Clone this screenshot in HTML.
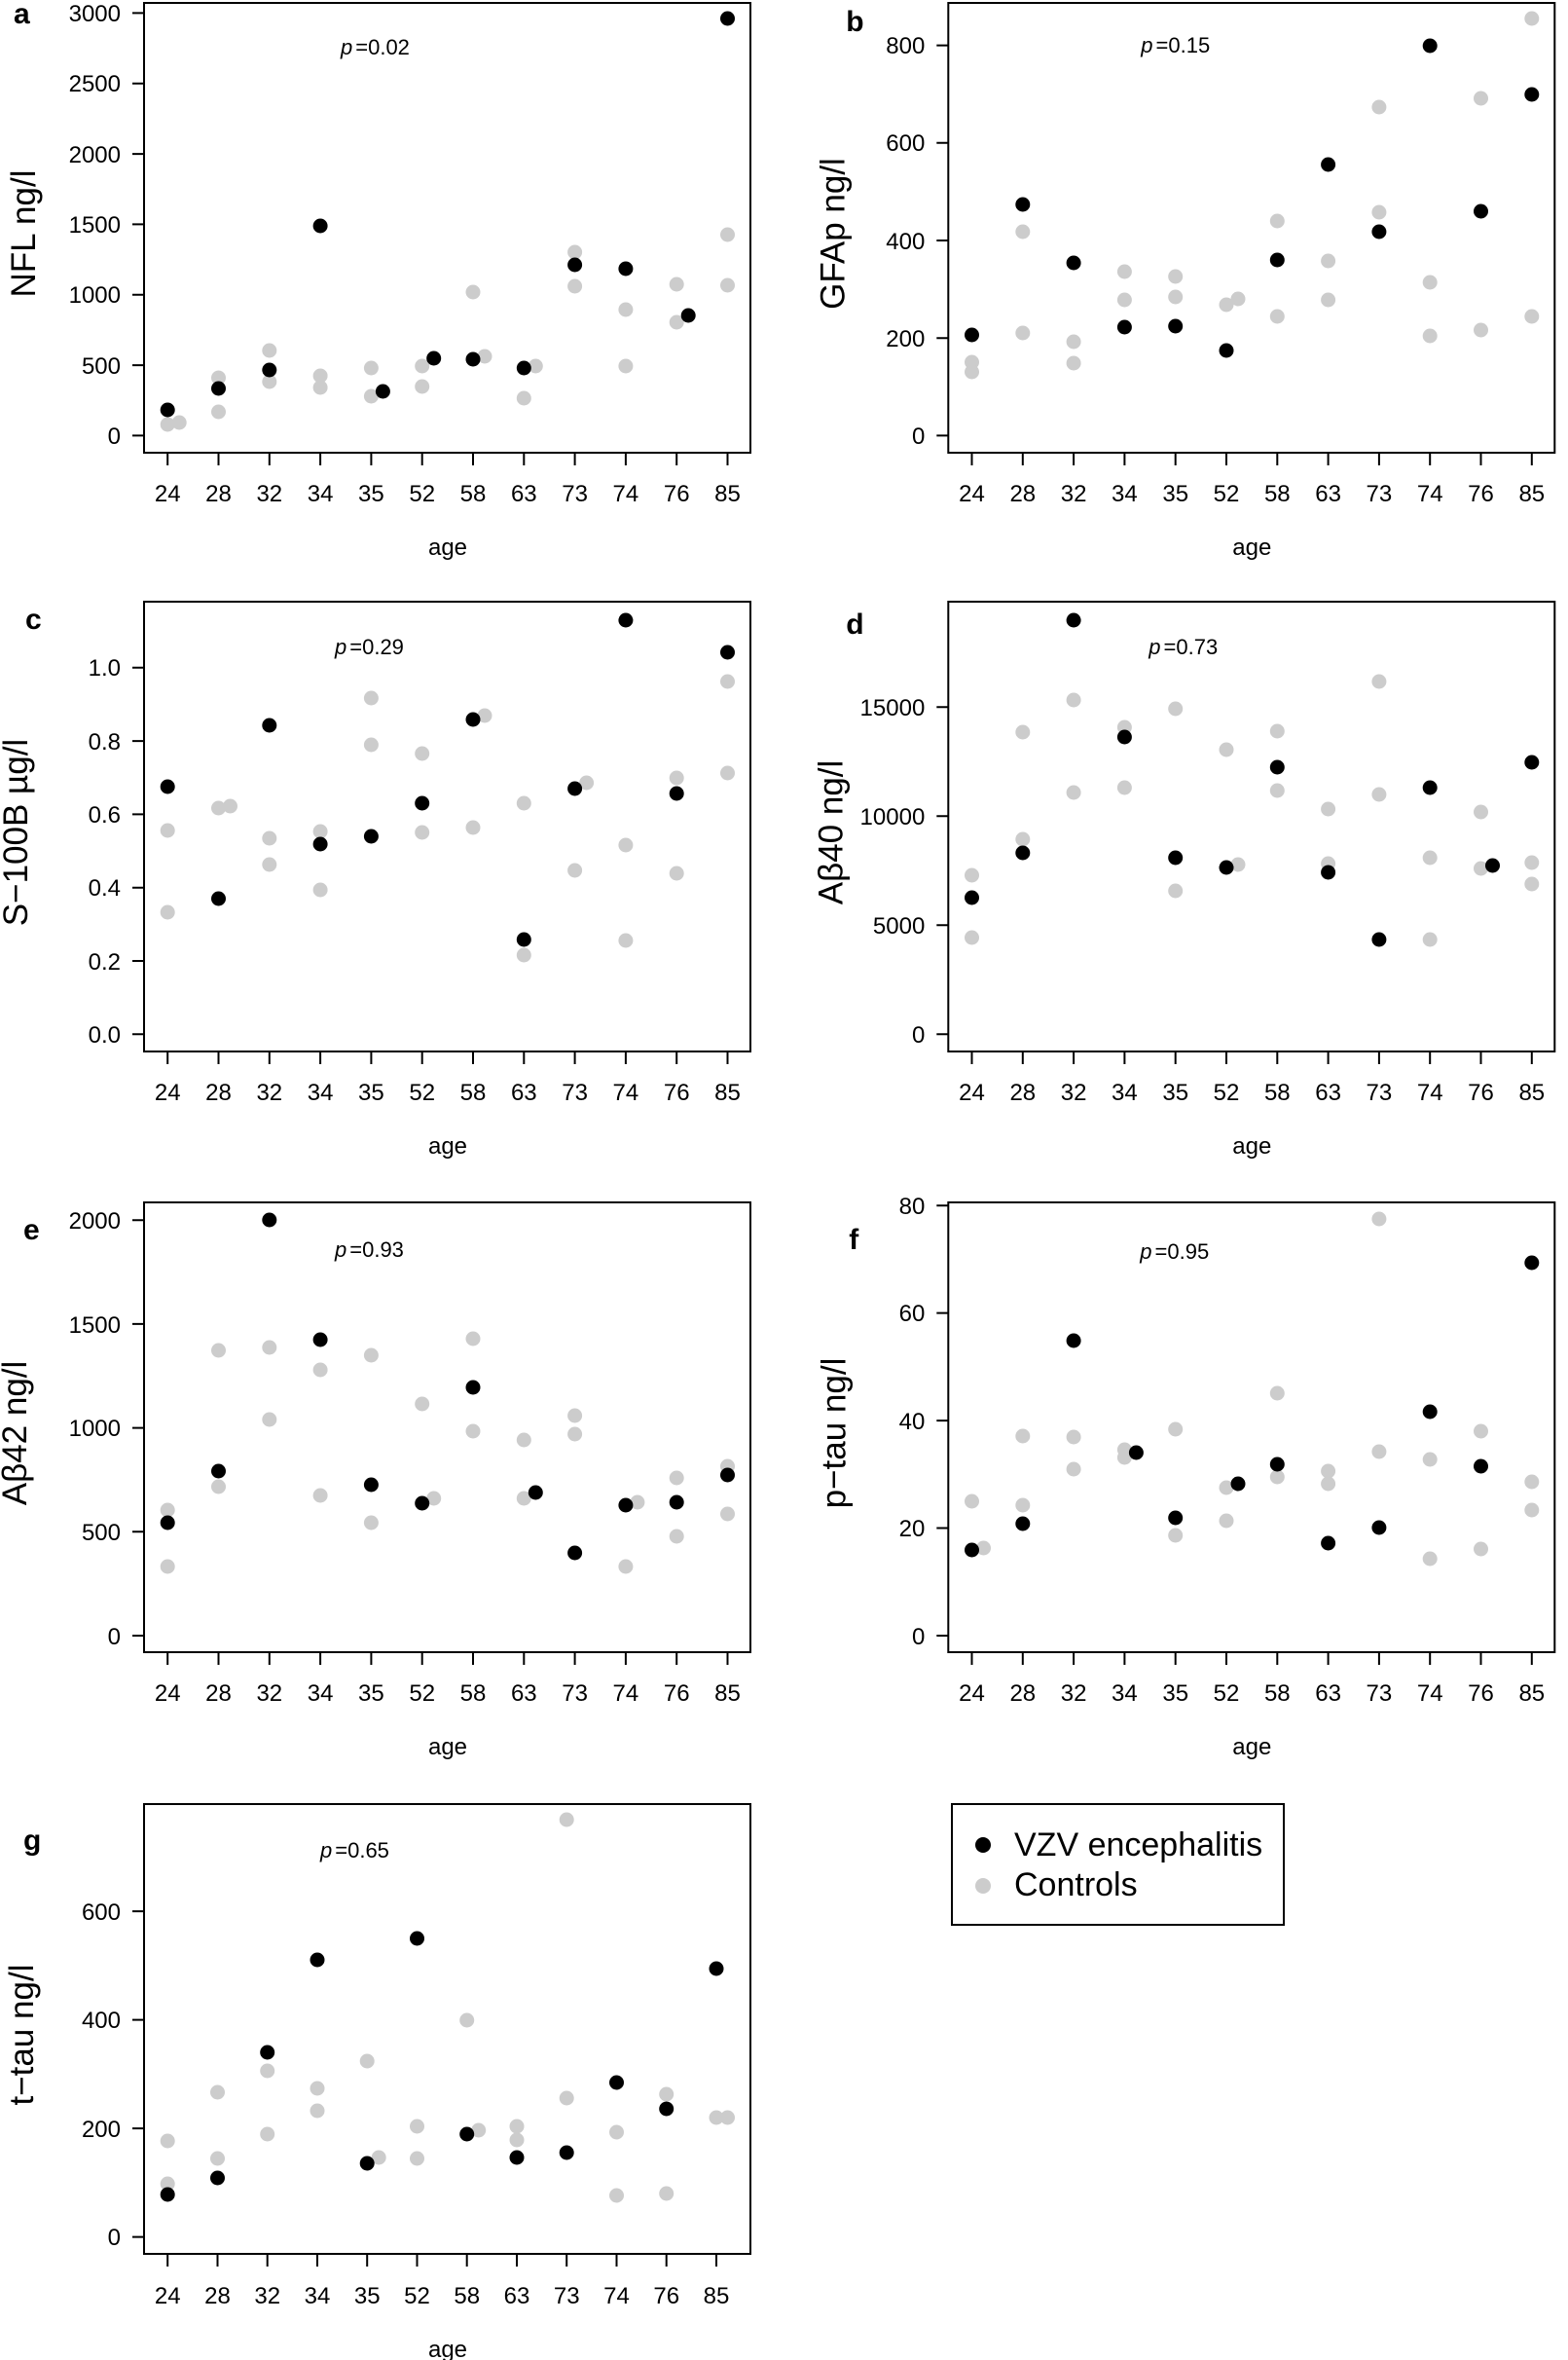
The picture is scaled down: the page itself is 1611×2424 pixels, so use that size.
<!DOCTYPE html>
<html><head><meta charset="utf-8"><style>
html,body{margin:0;padding:0;background:#fff;}
svg{display:block;}
text{font-family:"Liberation Sans",Arial,sans-serif;fill:#000;}
.t{font-size:24px;}
.yl{font-size:35px;}
.pl{font-size:30px;font-weight:bold;}
.pv{font-size:22px;}
.g{fill:#cccccc;}
.k{fill:#000;}
.ax{stroke:#000;stroke-width:2;fill:none;}
</style></head><body>
<svg width="1611" height="2424" viewBox="0 0 1611 2424" xmlns="http://www.w3.org/2000/svg">
<defs>
<g id="xax">
<rect class="ax" x="148" y="3" width="623" height="462"/>
<path class="ax" d="M172.2 465v13M224.5 465v13M276.8 465v13M329.1 465v13M381.4 465v13M433.7 465v13M486 465v13M538.3 465v13M590.6 465v13M642.9 465v13M695.2 465v13M747.5 465v13"/>
<g class="t" text-anchor="middle">
<text x="172.2" y="515">24</text><text x="224.5" y="515">28</text><text x="276.8" y="515">32</text><text x="329.1" y="515">34</text><text x="381.4" y="515">35</text><text x="433.7" y="515">52</text><text x="486" y="515">58</text><text x="538.3" y="515">63</text><text x="590.6" y="515">73</text><text x="642.9" y="515">74</text><text x="695.2" y="515">76</text><text x="747.5" y="515">85</text>
<text x="460" y="570">age</text>
</g>
</g>
</defs>

<!-- Panel a -->
<g transform="translate(0,0)">
<use href="#xax"/>
<path class="ax" d="M148 447.4h-12M148 375.1h-12M148 302.7h-12M148 230.4h-12M148 158.1h-12M148 85.7h-12M148 13.4h-12"/>
<g class="t" text-anchor="end">
<text x="124" y="456">0</text><text x="124" y="384">500</text><text x="124" y="311">1000</text><text x="124" y="239">1500</text><text x="124" y="167">2000</text><text x="124" y="94">2500</text><text x="124" y="22">3000</text>
</g>
<text class="yl" text-anchor="middle" transform="translate(36,240) rotate(-90)">NFL ng/l</text>
<text class="pl" x="14" y="24">a</text>
<text class="pv" x="350" y="56"><tspan font-style="italic">p</tspan><tspan dx="3">=0.02</tspan></text>
<g>
<circle class="g" cx="172.2" cy="436" r="7.5"/><circle class="g" cx="184.2" cy="434" r="7.5"/>
<circle class="g" cx="224.5" cy="388" r="7.5"/><circle class="g" cx="224.5" cy="423" r="7.5"/>
<circle class="g" cx="276.8" cy="360" r="7.5"/><circle class="g" cx="276.8" cy="392" r="7.5"/>
<circle class="g" cx="329.1" cy="386" r="7.5"/><circle class="g" cx="329.1" cy="398" r="7.5"/>
<circle class="g" cx="381.4" cy="378" r="7.5"/><circle class="g" cx="381.4" cy="407" r="7.5"/>
<circle class="g" cx="433.7" cy="376" r="7.5"/><circle class="g" cx="433.7" cy="397" r="7.5"/>
<circle class="g" cx="498" cy="366" r="7.5"/><circle class="g" cx="486" cy="300" r="7.5"/>
<circle class="g" cx="550.3" cy="376" r="7.5"/><circle class="g" cx="538.3" cy="409" r="7.5"/>
<circle class="g" cx="590.6" cy="259" r="7.5"/><circle class="g" cx="590.6" cy="294" r="7.5"/>
<circle class="g" cx="642.9" cy="318" r="7.5"/><circle class="g" cx="642.9" cy="376" r="7.5"/>
<circle class="g" cx="695.2" cy="292" r="7.5"/><circle class="g" cx="695.2" cy="331" r="7.5"/>
<circle class="g" cx="747.5" cy="241" r="7.5"/><circle class="g" cx="747.5" cy="293" r="7.5"/>
<circle class="k" cx="172.2" cy="421" r="7.5"/><circle class="k" cx="224.5" cy="399" r="7.5"/><circle class="k" cx="276.8" cy="380" r="7.5"/><circle class="k" cx="329.1" cy="232" r="7.5"/><circle class="k" cx="393.4" cy="402" r="7.5"/><circle class="k" cx="445.7" cy="368" r="7.5"/><circle class="k" cx="486" cy="369" r="7.5"/><circle class="k" cx="538.3" cy="378" r="7.5"/><circle class="k" cx="590.6" cy="272" r="7.5"/><circle class="k" cx="642.9" cy="276" r="7.5"/><circle class="k" cx="707.2" cy="324" r="7.5"/><circle class="k" cx="747.5" cy="19" r="7.5"/>
</g>
</g>

<!-- Panel b -->
<g transform="translate(826.3,0)">
<use href="#xax"/>
<path class="ax" d="M148 447.4h-12M148 347.2h-12M148 247h-12M148 146.8h-12M148 46.6h-12"/>
<g class="t" text-anchor="end">
<text x="124" y="456">0</text><text x="124" y="356">200</text><text x="124" y="256">400</text><text x="124" y="155">600</text><text x="124" y="55">800</text>
</g>
<text class="yl" text-anchor="middle" transform="translate(41,240) rotate(-90)">GFAp ng/l</text>
<text class="pl" x="43" y="32">b</text>
<text class="pv" x="346" y="54"><tspan font-style="italic">p</tspan><tspan dx="3">=0.15</tspan></text>
<g>
<circle class="g" cx="172.2" cy="372" r="7.5"/><circle class="g" cx="172.2" cy="382" r="7.5"/>
<circle class="g" cx="224.5" cy="238" r="7.5"/><circle class="g" cx="224.5" cy="342" r="7.5"/>
<circle class="g" cx="276.8" cy="351" r="7.5"/><circle class="g" cx="276.8" cy="373" r="7.5"/>
<circle class="g" cx="329.1" cy="279" r="7.5"/><circle class="g" cx="329.1" cy="308" r="7.5"/>
<circle class="g" cx="381.4" cy="284" r="7.5"/><circle class="g" cx="381.4" cy="305" r="7.5"/>
<circle class="g" cx="433.7" cy="313" r="7.5"/><circle class="g" cx="445.7" cy="307" r="7.5"/>
<circle class="g" cx="486" cy="227" r="7.5"/><circle class="g" cx="486" cy="325" r="7.5"/>
<circle class="g" cx="538.3" cy="268" r="7.5"/><circle class="g" cx="538.3" cy="308" r="7.5"/>
<circle class="g" cx="590.6" cy="110" r="7.5"/><circle class="g" cx="590.6" cy="218" r="7.5"/>
<circle class="g" cx="642.9" cy="290" r="7.5"/><circle class="g" cx="642.9" cy="345" r="7.5"/>
<circle class="g" cx="695.2" cy="101" r="7.5"/><circle class="g" cx="695.2" cy="339" r="7.5"/>
<circle class="g" cx="747.5" cy="19" r="7.5"/><circle class="g" cx="747.5" cy="325" r="7.5"/>
<circle class="k" cx="172.2" cy="344" r="7.5"/><circle class="k" cx="224.5" cy="210" r="7.5"/><circle class="k" cx="276.8" cy="270" r="7.5"/><circle class="k" cx="329.1" cy="336" r="7.5"/><circle class="k" cx="381.4" cy="335" r="7.5"/><circle class="k" cx="433.7" cy="360" r="7.5"/><circle class="k" cx="486" cy="267" r="7.5"/><circle class="k" cx="538.3" cy="169" r="7.5"/><circle class="k" cx="590.6" cy="238" r="7.5"/><circle class="k" cx="642.9" cy="47" r="7.5"/><circle class="k" cx="695.2" cy="217" r="7.5"/><circle class="k" cx="747.5" cy="97" r="7.5"/>
</g>
</g>

<!-- Panel c -->
<g transform="translate(0,615)">
<use href="#xax"/>
<path class="ax" d="M148 447.3h-12M148 372h-12M148 296.7h-12M148 221.4h-12M148 146.1h-12M148 70.8h-12"/>
<g class="t" text-anchor="end">
<text x="124" y="456">0.0</text><text x="124" y="381">0.2</text><text x="124" y="305">0.4</text><text x="124" y="230">0.6</text><text x="124" y="155">0.8</text><text x="124" y="79">1.0</text>
</g>
<text class="yl" text-anchor="middle" transform="translate(28,240) rotate(-90)">S−100B µg/l</text>
<text class="pl" x="26" y="31">c</text>
<text class="pv" x="344" y="57"><tspan font-style="italic">p</tspan><tspan dx="3">=0.29</tspan></text>
<g>
<circle class="g" cx="172.2" cy="238" r="7.5"/><circle class="g" cx="172.2" cy="322" r="7.5"/>
<circle class="g" cx="224.5" cy="215" r="7.5"/><circle class="g" cx="236.5" cy="213" r="7.5"/>
<circle class="g" cx="276.8" cy="246" r="7.5"/><circle class="g" cx="276.8" cy="273" r="7.5"/>
<circle class="g" cx="329.1" cy="239" r="7.5"/><circle class="g" cx="329.1" cy="299" r="7.5"/>
<circle class="g" cx="381.4" cy="102" r="7.5"/><circle class="g" cx="381.4" cy="150" r="7.5"/>
<circle class="g" cx="433.7" cy="159" r="7.5"/><circle class="g" cx="433.7" cy="240" r="7.5"/>
<circle class="g" cx="498" cy="120" r="7.5"/><circle class="g" cx="486" cy="235" r="7.5"/>
<circle class="g" cx="538.3" cy="210" r="7.5"/><circle class="g" cx="538.3" cy="366" r="7.5"/>
<circle class="g" cx="602.6" cy="189" r="7.5"/><circle class="g" cx="590.6" cy="279" r="7.5"/>
<circle class="g" cx="642.9" cy="253" r="7.5"/><circle class="g" cx="642.9" cy="351" r="7.5"/>
<circle class="g" cx="695.2" cy="184" r="7.5"/><circle class="g" cx="695.2" cy="282" r="7.5"/>
<circle class="g" cx="747.5" cy="85" r="7.5"/><circle class="g" cx="747.5" cy="179" r="7.5"/>
<circle class="k" cx="172.2" cy="193" r="7.5"/><circle class="k" cx="224.5" cy="308" r="7.5"/><circle class="k" cx="276.8" cy="130" r="7.5"/><circle class="k" cx="329.1" cy="252" r="7.5"/><circle class="k" cx="381.4" cy="244" r="7.5"/><circle class="k" cx="433.7" cy="210" r="7.5"/><circle class="k" cx="486" cy="124" r="7.5"/><circle class="k" cx="538.3" cy="350" r="7.5"/><circle class="k" cx="590.6" cy="195" r="7.5"/><circle class="k" cx="642.9" cy="22" r="7.5"/><circle class="k" cx="695.2" cy="200" r="7.5"/><circle class="k" cx="747.5" cy="55" r="7.5"/>
</g>
</g>

<!-- Panel d -->
<g transform="translate(826.3,615)">
<use href="#xax"/>
<path class="ax" d="M148 447.3h-12M148 335.3h-12M148 223.3h-12M148 111.3h-12"/>
<g class="t" text-anchor="end">
<text x="124" y="456">0</text><text x="124" y="344">5000</text><text x="124" y="232">10000</text><text x="124" y="120">15000</text>
</g>
<text class="yl" text-anchor="middle" transform="translate(39,240) rotate(-90)">Aβ40 ng/l</text>
<text class="pl" x="43" y="36">d</text>
<text class="pv" x="354" y="57"><tspan font-style="italic">p</tspan><tspan dx="3">=0.73</tspan></text>
<g>
<circle class="g" cx="172.2" cy="284" r="7.5"/><circle class="g" cx="172.2" cy="348" r="7.5"/>
<circle class="g" cx="224.5" cy="137" r="7.5"/><circle class="g" cx="224.5" cy="247" r="7.5"/>
<circle class="g" cx="276.8" cy="104" r="7.5"/><circle class="g" cx="276.8" cy="199" r="7.5"/>
<circle class="g" cx="329.1" cy="132" r="7.5"/><circle class="g" cx="329.1" cy="194" r="7.5"/>
<circle class="g" cx="381.4" cy="113" r="7.5"/><circle class="g" cx="381.4" cy="300" r="7.5"/>
<circle class="g" cx="433.7" cy="155" r="7.5"/><circle class="g" cx="445.7" cy="273" r="7.5"/>
<circle class="g" cx="486" cy="136" r="7.5"/><circle class="g" cx="486" cy="197" r="7.5"/>
<circle class="g" cx="538.3" cy="216" r="7.5"/><circle class="g" cx="538.3" cy="272" r="7.5"/>
<circle class="g" cx="590.6" cy="85" r="7.5"/><circle class="g" cx="590.6" cy="201" r="7.5"/>
<circle class="g" cx="642.9" cy="266" r="7.5"/><circle class="g" cx="642.9" cy="350" r="7.5"/>
<circle class="g" cx="695.2" cy="219" r="7.5"/><circle class="g" cx="695.2" cy="277" r="7.5"/>
<circle class="g" cx="747.5" cy="271" r="7.5"/><circle class="g" cx="747.5" cy="293" r="7.5"/>
<circle class="k" cx="172.2" cy="307" r="7.5"/><circle class="k" cx="224.5" cy="261" r="7.5"/><circle class="k" cx="276.8" cy="22" r="7.5"/><circle class="k" cx="329.1" cy="142" r="7.5"/><circle class="k" cx="381.4" cy="266" r="7.5"/><circle class="k" cx="433.7" cy="276" r="7.5"/><circle class="k" cx="486" cy="173" r="7.5"/><circle class="k" cx="538.3" cy="281" r="7.5"/><circle class="k" cx="590.6" cy="350" r="7.5"/><circle class="k" cx="642.9" cy="194" r="7.5"/><circle class="k" cx="707.2" cy="274" r="7.5"/><circle class="k" cx="747.5" cy="168" r="7.5"/>
</g>
</g>

<!-- Panel e -->
<g transform="translate(0,1232)">
<use href="#xax"/>
<path class="ax" d="M148 448h-12M148 341.3h-12M148 234.6h-12M148 127.9h-12M148 21.2h-12"/>
<g class="t" text-anchor="end">
<text x="124" y="457">0</text><text x="124" y="350">500</text><text x="124" y="243">1000</text><text x="124" y="137">1500</text><text x="124" y="30">2000</text>
</g>
<text class="yl" text-anchor="middle" transform="translate(27,240) rotate(-90)">Aβ42 ng/l</text>
<text class="pl" x="24" y="41">e</text>
<text class="pv" x="344" y="59"><tspan font-style="italic">p</tspan><tspan dx="3">=0.93</tspan></text>
<g>
<circle class="g" cx="172.2" cy="319" r="7.5"/><circle class="g" cx="172.2" cy="377" r="7.5"/>
<circle class="g" cx="224.5" cy="155" r="7.5"/><circle class="g" cx="224.5" cy="295" r="7.5"/>
<circle class="g" cx="276.8" cy="152" r="7.5"/><circle class="g" cx="276.8" cy="226" r="7.5"/>
<circle class="g" cx="329.1" cy="175" r="7.5"/><circle class="g" cx="329.1" cy="304" r="7.5"/>
<circle class="g" cx="381.4" cy="160" r="7.5"/><circle class="g" cx="381.4" cy="332" r="7.5"/>
<circle class="g" cx="433.7" cy="210" r="7.5"/><circle class="g" cx="445.7" cy="307" r="7.5"/>
<circle class="g" cx="486" cy="143" r="7.5"/><circle class="g" cx="486" cy="238" r="7.5"/>
<circle class="g" cx="538.3" cy="247" r="7.5"/><circle class="g" cx="538.3" cy="307" r="7.5"/>
<circle class="g" cx="590.6" cy="222" r="7.5"/><circle class="g" cx="590.6" cy="241" r="7.5"/>
<circle class="g" cx="654.9" cy="311" r="7.5"/><circle class="g" cx="642.9" cy="377" r="7.5"/>
<circle class="g" cx="695.2" cy="286" r="7.5"/><circle class="g" cx="695.2" cy="346" r="7.5"/>
<circle class="g" cx="747.5" cy="274" r="7.5"/><circle class="g" cx="747.5" cy="323" r="7.5"/>
<circle class="k" cx="172.2" cy="332" r="7.5"/><circle class="k" cx="224.5" cy="279" r="7.5"/><circle class="k" cx="276.8" cy="21" r="7.5"/><circle class="k" cx="329.1" cy="144" r="7.5"/><circle class="k" cx="381.4" cy="293" r="7.5"/><circle class="k" cx="433.7" cy="312" r="7.5"/><circle class="k" cx="486" cy="193" r="7.5"/><circle class="k" cx="550.3" cy="301" r="7.5"/><circle class="k" cx="590.6" cy="363" r="7.5"/><circle class="k" cx="642.9" cy="314" r="7.5"/><circle class="k" cx="695.2" cy="311" r="7.5"/><circle class="k" cx="747.5" cy="283" r="7.5"/>
</g>
</g>

<!-- Panel f -->
<g transform="translate(826.3,1232)">
<use href="#xax"/>
<path class="ax" d="M148 448h-12M148 337.5h-12M148 227.1h-12M148 116.6h-12M148 6.2h-12"/>
<g class="t" text-anchor="end">
<text x="124" y="457">0</text><text x="124" y="346">20</text><text x="124" y="236">40</text><text x="124" y="125">60</text><text x="124" y="15">80</text>
</g>
<text class="yl" text-anchor="middle" transform="translate(42,240) rotate(-90)">p−tau ng/l</text>
<text class="pl" x="46" y="51">f</text>
<text class="pv" x="345" y="61"><tspan font-style="italic">p</tspan><tspan dx="3">=0.95</tspan></text>
<g>
<circle class="g" cx="172.2" cy="310" r="7.5"/><circle class="g" cx="184.2" cy="358" r="7.5"/>
<circle class="g" cx="224.5" cy="243" r="7.5"/><circle class="g" cx="224.5" cy="314" r="7.5"/>
<circle class="g" cx="276.8" cy="244" r="7.5"/><circle class="g" cx="276.8" cy="277" r="7.5"/>
<circle class="g" cx="329.1" cy="257" r="7.5"/><circle class="g" cx="329.1" cy="265" r="7.5"/>
<circle class="g" cx="381.4" cy="236" r="7.5"/><circle class="g" cx="381.4" cy="345" r="7.5"/>
<circle class="g" cx="433.7" cy="296" r="7.5"/><circle class="g" cx="433.7" cy="330" r="7.5"/>
<circle class="g" cx="486" cy="199" r="7.5"/><circle class="g" cx="486" cy="285" r="7.5"/>
<circle class="g" cx="538.3" cy="279" r="7.5"/><circle class="g" cx="538.3" cy="292" r="7.5"/>
<circle class="g" cx="590.6" cy="20" r="7.5"/><circle class="g" cx="590.6" cy="259" r="7.5"/>
<circle class="g" cx="642.9" cy="267" r="7.5"/><circle class="g" cx="642.9" cy="369" r="7.5"/>
<circle class="g" cx="695.2" cy="238" r="7.5"/><circle class="g" cx="695.2" cy="359" r="7.5"/>
<circle class="g" cx="747.5" cy="290" r="7.5"/><circle class="g" cx="747.5" cy="319" r="7.5"/>
<circle class="k" cx="172.2" cy="360" r="7.5"/><circle class="k" cx="224.5" cy="333" r="7.5"/><circle class="k" cx="276.8" cy="145" r="7.5"/><circle class="k" cx="341.1" cy="260" r="7.5"/><circle class="k" cx="381.4" cy="327" r="7.5"/><circle class="k" cx="445.7" cy="292" r="7.5"/><circle class="k" cx="486" cy="272" r="7.5"/><circle class="k" cx="538.3" cy="353" r="7.5"/><circle class="k" cx="590.6" cy="337" r="7.5"/><circle class="k" cx="642.9" cy="218" r="7.5"/><circle class="k" cx="695.2" cy="274" r="7.5"/><circle class="k" cx="747.5" cy="65" r="7.5"/>
</g>
</g>

<!-- Panel g -->
<g transform="translate(0,1850)">
<rect class="ax" x="148" y="3" width="623" height="462"/>
<path class="ax" d="M172.2 465v13M223.5 465v13M274.7 465v13M326 465v13M377.2 465v13M428.5 465v13M479.7 465v13M531 465v13M582.2 465v13M633.5 465v13M684.7 465v13M736 465v13"/>
<g class="t" text-anchor="middle">
<text x="172.2" y="516">24</text><text x="223.5" y="516">28</text><text x="274.7" y="516">32</text><text x="326" y="516">34</text><text x="377.2" y="516">35</text><text x="428.5" y="516">52</text><text x="479.7" y="516">58</text><text x="531" y="516">63</text><text x="582.2" y="516">73</text><text x="633.5" y="516">74</text><text x="684.7" y="516">76</text><text x="736" y="516">85</text>
<text x="460" y="571">age</text>
</g>
<path class="ax" d="M148 447.6h-12M148 336.1h-12M148 224.6h-12M148 113.1h-12"/>
<g class="t" text-anchor="end">
<text x="124" y="456">0</text><text x="124" y="345">200</text><text x="124" y="233">400</text><text x="124" y="122">600</text>
</g>
<text class="yl" text-anchor="middle" transform="translate(34,240) rotate(-90)">t−tau ng/l</text>
<text class="pl" x="24" y="50">g</text>
<text class="pv" x="329" y="58"><tspan font-style="italic">p</tspan><tspan dx="3">=0.65</tspan></text>
<g>
<circle class="g" cx="172.2" cy="349" r="7.5"/><circle class="g" cx="172.2" cy="393" r="7.5"/>
<circle class="g" cx="223.5" cy="299" r="7.5"/><circle class="g" cx="223.5" cy="367" r="7.5"/>
<circle class="g" cx="274.7" cy="277" r="7.5"/><circle class="g" cx="274.7" cy="342" r="7.5"/>
<circle class="g" cx="326" cy="295" r="7.5"/><circle class="g" cx="326" cy="318" r="7.5"/>
<circle class="g" cx="377.2" cy="267" r="7.5"/><circle class="g" cx="389.2" cy="366" r="7.5"/>
<circle class="g" cx="428.5" cy="334" r="7.5"/><circle class="g" cx="428.5" cy="367" r="7.5"/>
<circle class="g" cx="479.7" cy="225" r="7.5"/><circle class="g" cx="491.7" cy="338" r="7.5"/>
<circle class="g" cx="531" cy="334" r="7.5"/><circle class="g" cx="531" cy="348" r="7.5"/>
<circle class="g" cx="582.2" cy="19" r="7.5"/><circle class="g" cx="582.2" cy="305" r="7.5"/>
<circle class="g" cx="633.5" cy="340" r="7.5"/><circle class="g" cx="633.5" cy="405" r="7.5"/>
<circle class="g" cx="684.7" cy="301" r="7.5"/><circle class="g" cx="684.7" cy="403" r="7.5"/>
<circle class="g" cx="736" cy="325" r="7.5"/><circle class="g" cx="747.5" cy="325" r="7.5"/>
<circle class="k" cx="172.2" cy="404" r="7.5"/><circle class="k" cx="223.5" cy="387" r="7.5"/><circle class="k" cx="274.7" cy="258" r="7.5"/><circle class="k" cx="326" cy="163" r="7.5"/><circle class="k" cx="377.2" cy="372" r="7.5"/><circle class="k" cx="428.5" cy="141" r="7.5"/><circle class="k" cx="479.7" cy="342" r="7.5"/><circle class="k" cx="531" cy="366" r="7.5"/><circle class="k" cx="582.2" cy="361" r="7.5"/><circle class="k" cx="633.5" cy="289" r="7.5"/><circle class="k" cx="684.7" cy="316" r="7.5"/><circle class="k" cx="736" cy="172" r="7.5"/>
</g>
</g>

<!-- Legend -->
<rect x="978" y="1853" width="341" height="124" fill="none" stroke="#000" stroke-width="2"/>
<circle cx="1010" cy="1895" r="8" fill="#000"/>
<circle cx="1010" cy="1937" r="8" fill="#cccccc"/>
<text x="1042" y="1906" style="font-size:34px">VZV encephalitis</text>
<text x="1042" y="1947" style="font-size:34px">Controls</text>
</svg>
</body></html>
